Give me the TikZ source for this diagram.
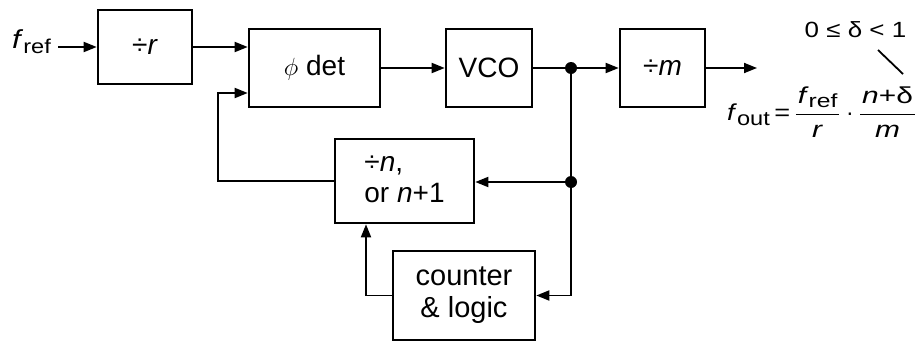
\documentclass[tikz,border=0pt]{standalone}
\usepackage{amsmath}
\usepackage{graphicx}
\usepackage{fontspec}
\setmainfont{Liberation Sans}
\usetikzlibrary{arrows.meta}
\newcommand{\widetxt}[1]{\scalebox{1.18}[1]{#1}}
\newcommand{\widefrac}[2]{\scalebox{1.3}[1]{$\dfrac{\text{\hspace{1.5pt}#1\hspace{1.5pt}}}{\text{#2}}$}}
\begin{document}
\begin{tikzpicture}[x=1pt,y=-1pt,
  blk/.style={draw, line width=2.6pt, inner sep=0pt, align=center, font=\fontsize{28}{32}\selectfont},
  wire/.style={line width=1.8pt},
  arr/.style={wire, -{Triangle[length=13pt,width=10pt]}},
  dot/.style={circle, fill, inner sep=0pt, minimum size=12pt},
  lbl/.style={inner sep=0pt, font=\fontsize{22}{25}\selectfont}]
\useasboundingbox (0,0) rectangle (921,343);
% blocks
\node[blk, minimum width=94pt, minimum height=74pt] (divr) at (145,47) {÷\textit{r}};
\node[blk, minimum width=131pt, minimum height=78pt] (pdet) at (314.5,68) {$\phi$ det};
\node[blk, minimum width=86pt, minimum height=78pt] (vco) at (489,68) {VCO};
\node[blk, minimum width=85pt, minimum height=78pt] (divm) at (662.5,68) {÷\textit{m}};
\node[blk, minimum width=139pt, minimum height=84pt] (divn) at (404.5,181) {\renewcommand{\arraystretch}{0.95}\begin{tabular}{@{}l@{}}÷\textit{n},\\ or \textit{n}+1\end{tabular}};
\node[blk, minimum width=142pt, minimum height=89pt] (cnt) at (464,295.5) {\fontsize{29}{32}\selectfont counter\\ \fontsize{29}{32}\selectfont \& logic};
% labels
\node[lbl, anchor=west] (fref) at (12,42) {\widetxt{\fontsize{26}{29}\selectfont\textit{f}\raisebox{-5pt}{\fontsize{20}{20}\selectfont ref}}};
\node[lbl] (delta) at (855.5,30) {\widetxt{0 ≤ δ {\textless} 1}};
\node[lbl, anchor=west, font=\fontsize{23}{26}\selectfont] (eq) at (727,112) {\widetxt{\textit{f}\raisebox{-5pt}{\fontsize{20}{20}\selectfont out}\,=}\hspace{4pt}\widefrac{\textit{f}\raisebox{-4pt}{\fontsize{19}{20}\selectfont ref}}{\textit{r}}\hspace{5pt}·\hspace{5pt}\widefrac{\textit{n}+δ}{\textit{m}}};
% coordinates
\coordinate (fin) at (58,47);
\coordinate (fout) at (757,68);
\node[dot] (j1) at (571,68) {};
\node[dot] (j2) at (571,182) {};
\coordinate (fb) at (218,93);
\coordinate (cx) at (366,0);
\coordinate (tickA) at (878,50);
\coordinate (tickB) at (903,74);
% connectors
\draw[arr] (fin) -- (divr.west |- fin);
\draw[arr] (divr.east) -- (pdet.west |- divr.east);
\draw[arr] (pdet.east) -- (vco.west);
\draw[wire] (vco.east) -- (j1.center);
\draw[arr] (j1.center) -- (divm.west);
\draw[arr] (divm.east) -- (fout);
\draw[wire] (j1.center) -- (j2.center);
\draw[arr] (j2.center) -- (divn.east |- j2);
\draw[arr] (j2.center) |- (cnt.east);
\draw[arr] (divn.west) -| (fb) -- (pdet.west |- fb);
\draw[arr] (cnt.west) -| (divn.south -| cx);
\draw[wire] (tickA) -- (tickB);
\end{tikzpicture}
\end{document}
